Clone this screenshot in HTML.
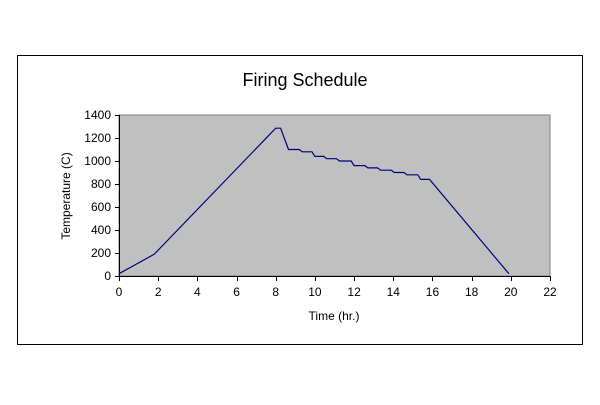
<!DOCTYPE html>
<html><head><meta charset="utf-8"><style>
body{margin:0;background:#fff;}
svg text{font-family:"Liberation Sans",Arial,sans-serif;fill:#000;}
</style></head><body>
<svg width="600" height="400">
<rect x="17.5" y="55.5" width="565" height="289" fill="#fff" stroke="#000"/>
<text x="305" y="86" font-size="18" text-anchor="middle">Firing Schedule</text>
<rect x="119" y="115" width="431" height="161" fill="#c0c0c0" stroke="#808080"/>
<g id="axes"></g>
<text x="0" y="0" font-size="12" text-anchor="middle" transform="translate(70,196) rotate(-90)">Temperature (C)</text>
<text x="334" y="320" font-size="12" text-anchor="middle">Time (hr.)</text>
</svg>
<script>
const times=[0,1.8,8,8.25,8.65,9.2,9.35,9.85,10.0,10.45,10.6,11.1,11.25,11.85,12.0,12.55,12.7,13.2,13.35,13.9,14.05,14.55,14.7,15.25,15.4,15.85,19.9];
const temps=[20,190,1285,1285,1100,1100,1080,1080,1040,1040,1020,1020,1000,1000,960,960,940,940,920,920,900,900,880,880,840,840,20];
const xTicks=[0,2,4,6,8,10,12,14,16,18,20,22];
const yTicks=[0,200,400,600,800,1000,1200,1400];
const X0=119,X1=550,Y0=276,Y1=115;
const sx=v=>X0+(v-0)/22*(X1-X0);
const sy=v=>Y0-(v-0)/1400*(Y0-Y1);
const NS="http://www.w3.org/2000/svg";
const g=document.getElementById('axes');
function mk(t,a){const e=document.createElementNS(NS,t);for(const k in a)e.setAttribute(k,a[k]);return e;}
const xa=mk('line',{x1:X0,y1:Y0+0.5,x2:X1,y2:Y0+0.5,stroke:'#000'});


g.appendChild(xa);
const ya=mk('line',{x1:X0+0.5,y1:Y1,x2:X0+0.5,y2:Y0,stroke:'#000'});


g.appendChild(ya);
xTicks.forEach(v=>{
 const x=Math.round(sx(v))+0.5;
 const t=mk('line',{x1:x,y1:Y0,x2:x,y2:Y0+5,stroke:'#000'});
 
 
 g.appendChild(t);
 const l=mk('text',{x:sx(v),y:Y0+20,'font-size':12,'text-anchor':'middle'});
 l.textContent=v;
 
 
 g.appendChild(l);
});
yTicks.forEach(v=>{
 const y=Math.round(sy(v))+0.5;
 const t=mk('line',{x1:X0-4,y1:y,x2:X0,y2:y,stroke:'#000'});
 
 
 g.appendChild(t);
 const l=mk('text',{x:X0-8,y:sy(v)+4,'font-size':12,'text-anchor':'end'});
 l.textContent=v;
 
 
 g.appendChild(l);
});
const pts=times.map((t,i)=>sx(t).toFixed(1)+','+sy(temps[i]).toFixed(1)).join(' ');
const pl=mk('polyline',{points:pts,fill:'none',stroke:'#000080','stroke-width':1.2});


g.appendChild(pl);
</script>
</body></html>
